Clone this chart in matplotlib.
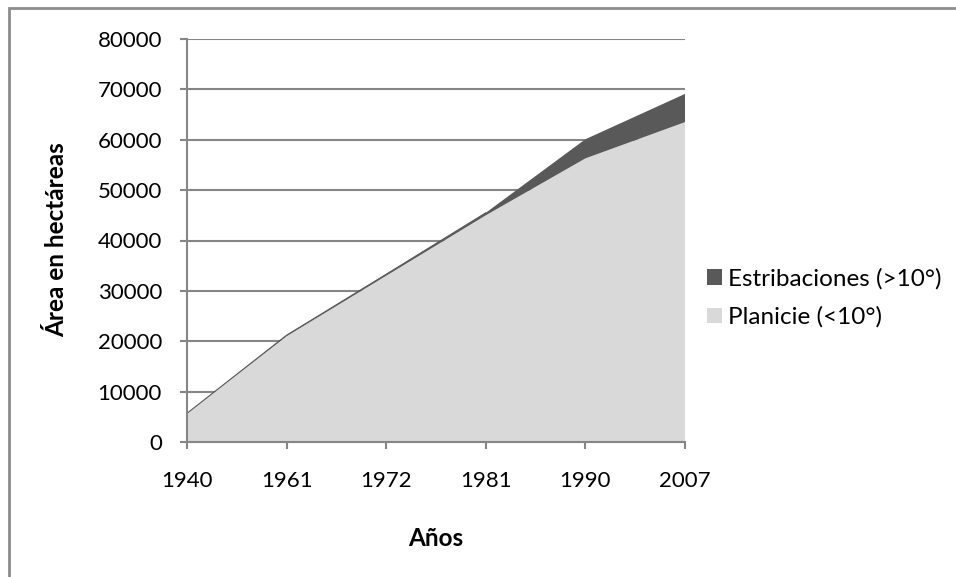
import matplotlib.pyplot as plt
from matplotlib.patches import Rectangle, Patch

# Superficie ocupada por año, según tipo de relieve
anios = ['1940', '1961', '1972', '1981', '1990', '2007']
planicie = [5700, 21000, 33000, 45000, 56300, 63500]
estribaciones = [0, 200, 300, 500, 3800, 5600]

plt.rcParams['font.family'] = ['Lato', 'DejaVu Sans']
gris = '#868686'

fig = plt.figure(figsize=(9.56, 5.77), dpi=100)
ax = fig.add_axes([187 / 956, 1 - 442 / 577, (685 - 187) / 956, (442 - 39) / 577])

x = list(range(len(anios)))
ax.stackplot(x, planicie, estribaciones,
             colors=['#d9d9d9', '#595959'], linewidth=0)
total = [p + e for p, e in zip(planicie, estribaciones)]
ax.plot(x[:4], total[:4], color='#595959', linewidth=0.8)

ax.set_xlim(0, len(anios) - 1)
ax.set_ylim(0, 80000)
ax.set_yticks(range(0, 80001, 10000))
ax.set_xticks(x)
ax.set_xticklabels(anios)
ax.yaxis.grid(True, color=gris, linewidth=1.5)
ax.set_axisbelow(True)

for side in ['top', 'right']:
    ax.spines[side].set_visible(False)
for side in ['left', 'bottom']:
    ax.spines[side].set_color(gris)
    ax.spines[side].set_linewidth(1.5)
    ax.spines[side].set_zorder(5)
ax.tick_params(axis='y', length=5, width=1.5, color=gris,
               labelsize=16, pad=13)
ax.tick_params(axis='x', length=5, width=1.5, color=gris,
               labelsize=16, pad=16)

fig.text(57 / 956, 1 - 240 / 577, 'Área en hectáreas', rotation=90,
         ha='center', va='center', fontsize=17.5, fontweight='bold')
fig.text(436 / 956, 1 - 538 / 577, 'Años',
         ha='center', va='center', fontsize=17.5, fontweight='bold')

handles = [Patch(facecolor='#595959', label='Estribaciones (>10°)'),
           Patch(facecolor='#d9d9d9', label='Planicie (<10°)')]
fig.legend(handles=handles, loc='center left',
           bbox_to_anchor=(707 / 956, 1 - 298 / 577),
           frameon=False, fontsize=17.5, handlelength=0.62, handleheight=0.62,
           handletextpad=0.25, labelspacing=0.7, borderpad=0, borderaxespad=0)

# marco del gráfico
fig.patches.append(Rectangle((9 / 956, -0.1), 1.1, 1 - 8 / 577 + 0.1,
                             transform=fig.transFigure, fill=False,
                             edgecolor='#8c8c8c', linewidth=2))

fig.savefig('out.png', dpi=100)
